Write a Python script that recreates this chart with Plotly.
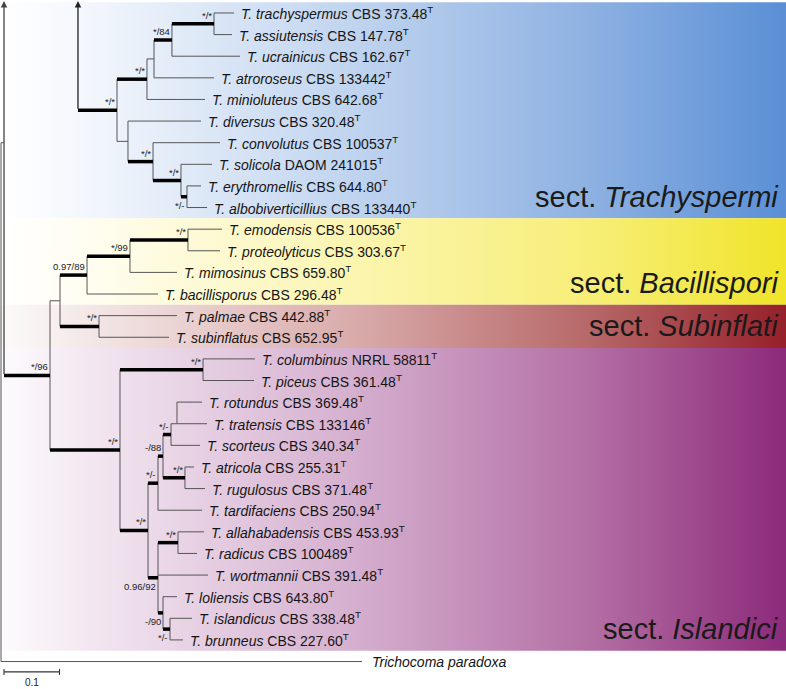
import plotly.graph_objects as go

# ---------------- data ----------------
leaf_species = [
    "T. trachyspermus", "T. assiutensis", "T. ucrainicus", "T. atroroseus", "T. minioluteus",
    "T. diversus", "T. convolutus", "T. solicola", "T. erythromellis", "T. albobiverticillius",
    "T. emodensis", "T. proteolyticus", "T. mimosinus", "T. bacillisporus",
    "T. palmae", "T. subinflatus",
    "T. columbinus", "T. piceus", "T. rotundus", "T. tratensis", "T. scorteus",
    "T. atricola", "T. rugulosus", "T. tardifaciens", "T. allahabadensis", "T. radicus",
    "T. wortmannii", "T. loliensis", "T. islandicus", "T. brunneus",
]
leaf_strains = [
    "CBS 373.48", "CBS 147.78", "CBS 162.67", "CBS 133442", "CBS 642.68",
    "CBS 320.48", "CBS 100537", "DAOM 241015", "CBS 644.80", "CBS 133440",
    "CBS 100536", "CBS 303.67", "CBS 659.80", "CBS 296.48",
    "CBS 442.88", "CBS 652.95",
    "NRRL 58811", "CBS 361.48", "CBS 369.48", "CBS 133146", "CBS 340.34",
    "CBS 255.31", "CBS 371.48", "CBS 250.94", "CBS 453.93", "CBS 100489",
    "CBS 391.48", "CBS 643.80", "CBS 338.48", "CBS 227.60",
]
# distance from root (substitutions per site)
leaf_depth = [
    0.4198, 0.4162, 0.4306, 0.3838, 0.3676,
    0.3604, 0.3946, 0.3802, 0.3604, 0.3712,
    0.3982, 0.3946, 0.3171, 0.2829,
    0.3171, 0.3027,
    0.4577, 0.4559, 0.3622, 0.3712, 0.3586,
    0.3477, 0.3676, 0.3622, 0.3658, 0.3532,
    0.3730, 0.3171, 0.3441, 0.3279,
]
outgroup_name = "Trichocoma paradoxa"
outgroup_depth = 0.6505

node_names = ["F", "E", "D", "B", "J", "I", "H", "G", "A",
              "N", "M", "L", "O", "K",
              "Q", "U", "T", "V", "S", "Rt", "X", "Z", "Y", "W", "R", "P",
              "G2", "IN", "ROOT"]
node_children = [[0, 1], ["F", 2], ["E", 3], ["D", 4], [8, 9], [7, "J"], [6, "I"], [5, "H"], ["B", "G"],
                 [10, 11], ["N", 12], ["M", 13], [14, 15], ["L", "O"],
                 [16, 17], [18, 19], ["U", 20], [21, 22], ["T", "V"], ["S", 23], [24, 25], [28, 29],
                 [27, "Z"], ["X", 26, "Y"], ["Rt", "W"], ["Q", "R"],
                 ["K", "P"], ["A", "G2"], ["IN", 30]]
node_depth = [0.3838, 0.3080, 0.2757, 0.2630, 0.3351, 0.3243, 0.2739, 0.2288, 0.2090,
              0.3369, 0.2324, 0.1550, 0.1766, 0.1063,
              0.3640, 0.3171, 0.3063, 0.3315, 0.2919, 0.2829, 0.3189, 0.3045,
              0.2919, 0.2829, 0.2649, 0.2144,
              0.0883, 0.0054, 0.0]
node_support = ["*/*", "*/84", "", "*/*", "*/-", "*/*", "*/*", "", "*/*",
                "*/*", "*/99", "0.97/89", "*/*", "",
                "*/*", "", "*/-", "*/*", "-/88", "*/-", "*/*", "*/-",
                "-/90", "0.96/92", "*/*", "*/*",
                "*/96", "", ""]
node_bold = [True, True, False, True, True, True, True, False, True,
             True, True, True, True, False,
             True, False, True, True, True, True, True, True,
             True, True, True, True,
             True, False, False]
node_label_below = ["J", "Z", "Y", "W"]
node_y_override = {"U": 19.0, "IN": 6.0}
truncated_stem_start = {"A": 0.1387}   # long branch cut (arrow)

section_names = ["Trachyspermi", "Bacillispori", "Subinflati", "Islandici"]
section_first = [0, 10, 14, 16]
section_last = [9, 13, 15, 29]
section_colorscales = [
    [[0, "#ffffff"], [0.12, "#f2f6fc"], [0.45, "#c0d4ef"], [0.75, "#8eb1e2"], [1, "#5a8fd5"]],
    [[0, "#ffffff"], [0.12, "#fffdef"], [0.45, "#fbf5b0"], [0.75, "#f7ee78"], [1, "#f0e42a"]],
    [[0, "#fdfafa"], [0.12, "#f3e6e6"], [0.45, "#d9abab"], [0.75, "#b76868"], [1, "#95202a"]],
    [[0, "#fdfbfd"], [0.12, "#f2e6f0"], [0.45, "#d5afcf"], [0.75, "#b36fa4"], [1, "#8c2a7a"]],
]
scale_value = 0.1
scale_start = 0.0054

# ---------------- layout constants ----------------
X_RANGE = [-0.0018, 1.4144]
Y_RANGE = [31.27, -0.60]
TOP_Y = -0.55
FONT = "Liberation Sans, Arial, sans-serif"

# ---------------- tree geometry ----------------
n_leaves = len(leaf_species)
OUT = n_leaves
idx = {n: i for i, n in enumerate(node_names)}
parent = {}
for n, ch in zip(node_names, node_children):
    for c in ch:
        parent[c] = n

node_y = {}


def get_y(ref):
    if isinstance(ref, int):
        return float(ref)
    if ref in node_y:
        return node_y[ref]
    ys = [get_y(c) for c in node_children[idx[ref]]]
    y = node_y_override.get(ref, (min(ys) + max(ys)) / 2)
    node_y[ref] = y
    return y


def get_depth(ref):
    if isinstance(ref, int):
        return outgroup_depth if ref == OUT else leaf_depth[ref]
    return node_depth[idx[ref]]


for n in node_names:
    get_y(n)

thin_x, thin_y, bold_x, bold_y = [], [], [], []
annotations = []

# vertical connectors
for n, ch in zip(node_names, node_children):
    ys = [get_y(c) for c in ch]
    d = node_depth[idx[n]]
    if n == "IN":
        annotations.append(dict(x=d, y=TOP_Y, ax=d, ay=get_y("G2"), axref="x", ayref="y",
                                xref="x", yref="y", showarrow=True, arrowhead=2, arrowsize=1,
                                arrowwidth=1.3, arrowcolor="#444", text="", standoff=0))
        continue
    if n == "ROOT":
        ys = [get_y("IN"), get_y(OUT)]
    thin_x += [d, d, None]
    thin_y += [min(ys), max(ys), None]

# horizontal branches
all_refs = list(range(n_leaves + 1)) + node_names
for ref in all_refs:
    if ref not in parent:
        continue
    p = parent[ref]
    start = truncated_stem_start.get(ref, node_depth[idx[p]]) if not isinstance(ref, int) else node_depth[idx[p]]
    end = get_depth(ref)
    y = get_y(ref)
    bold = (not isinstance(ref, int)) and node_bold[idx[ref]]
    if bold:
        bold_x += [start, end, None]
        bold_y += [y, y, None]
    else:
        thin_x += [start, end, None]
        thin_y += [y, y, None]
    if not isinstance(ref, int) and ref in truncated_stem_start:
        annotations.append(dict(x=start, y=TOP_Y, ax=start, ay=y, axref="x", ayref="y",
                                xref="x", yref="y", showarrow=True, arrowhead=2, arrowsize=1,
                                arrowwidth=1.3, arrowcolor="#222", text="", standoff=0))

fig = go.Figure()

# section bands
for name, f, l, cs in zip(section_names, section_first, section_last, section_colorscales):
    y0, y1 = f - 0.5, l + 0.5
    fig.add_trace(go.Scatter(
        x=[X_RANGE[0], X_RANGE[1], X_RANGE[1], X_RANGE[0], X_RANGE[0]],
        y=[y0, y0, y1, y1, y0], mode="lines", fill="toself", line=dict(width=0),
        fillgradient=dict(type="horizontal", colorscale=cs),
        hoverinfo="skip", showlegend=False))
    annotations.append(dict(x=X_RANGE[1] - 0.0108, y=l - 0.5, xref="x", yref="y",
                            text="sect. <i>%s</i>" % name, showarrow=False,
                            xanchor="right", yanchor="middle", borderpad=0,
                            font=dict(family=FONT, size=29, color="#1a1a1a")))

fig.add_trace(go.Scatter(x=thin_x, y=thin_y, mode="lines",
                         line=dict(color="#555555", width=1.0), hoverinfo="skip", showlegend=False))
fig.add_trace(go.Scatter(x=bold_x, y=bold_y, mode="lines",
                         line=dict(color="#000000", width=3.5), hoverinfo="skip", showlegend=False))

# leaf labels
GAP = 0.0115
for i, (sp, st) in enumerate(zip(leaf_species, leaf_strains)):
    annotations.append(dict(x=leaf_depth[i] + GAP, y=i, xref="x", yref="y",
                            text="<i>%s</i> %s<sup>T</sup>" % (sp, st), showarrow=False,
                            xanchor="left", yanchor="middle", borderpad=0,
                            font=dict(family=FONT, size=14, color="#151515")))
annotations.append(dict(x=outgroup_depth + 0.016, y=OUT, xref="x", yref="y",
                        text="<i>%s</i>" % outgroup_name, showarrow=False,
                        xanchor="left", yanchor="middle", borderpad=0,
                        font=dict(family=FONT, size=14, color="#151515")))

# support values
for n, s in zip(node_names, node_support):
    if not s:
        continue
    below = n in node_label_below
    annotations.append(dict(x=node_depth[idx[n]], y=get_y(n), xref="x", yref="y",
                            text=s, showarrow=False, xanchor="right",
                            yanchor="top" if below else "bottom",
                            xshift=-1, yshift=-2 if below else 2, borderpad=0,
                            font=dict(family=FONT, size=9.5, color="#222")))

# scale bar
SB_Y = 30.48
fig.add_trace(go.Scatter(
    x=[scale_start, scale_start + scale_value, None, scale_start, scale_start, None,
       scale_start + scale_value, scale_start + scale_value],
    y=[SB_Y, SB_Y, None, SB_Y - 0.14, SB_Y + 0.14, None, SB_Y - 0.14, SB_Y + 0.14],
    mode="lines", line=dict(color="#333", width=1.1), hoverinfo="skip", showlegend=False))
annotations.append(dict(x=scale_start + scale_value / 2, y=SB_Y + 0.5, xref="x", yref="y",
                        text=str(scale_value), showarrow=False, xanchor="center", yanchor="middle",
                        borderpad=0, font=dict(family=FONT, size=10, color="#222")))

fig.update_layout(
    width=786, height=689, margin=dict(l=0, r=0, t=0, b=0),
    paper_bgcolor="white", plot_bgcolor="white", showlegend=False,
    xaxis=dict(range=X_RANGE, visible=False, fixedrange=True),
    yaxis=dict(range=Y_RANGE, visible=False, fixedrange=True),
    annotations=annotations,
)
fig.write_html("out.html", config={"displayModeBar": False},
               post_script="document.body.style.margin='0px';document.body.style.overflow='hidden';")
